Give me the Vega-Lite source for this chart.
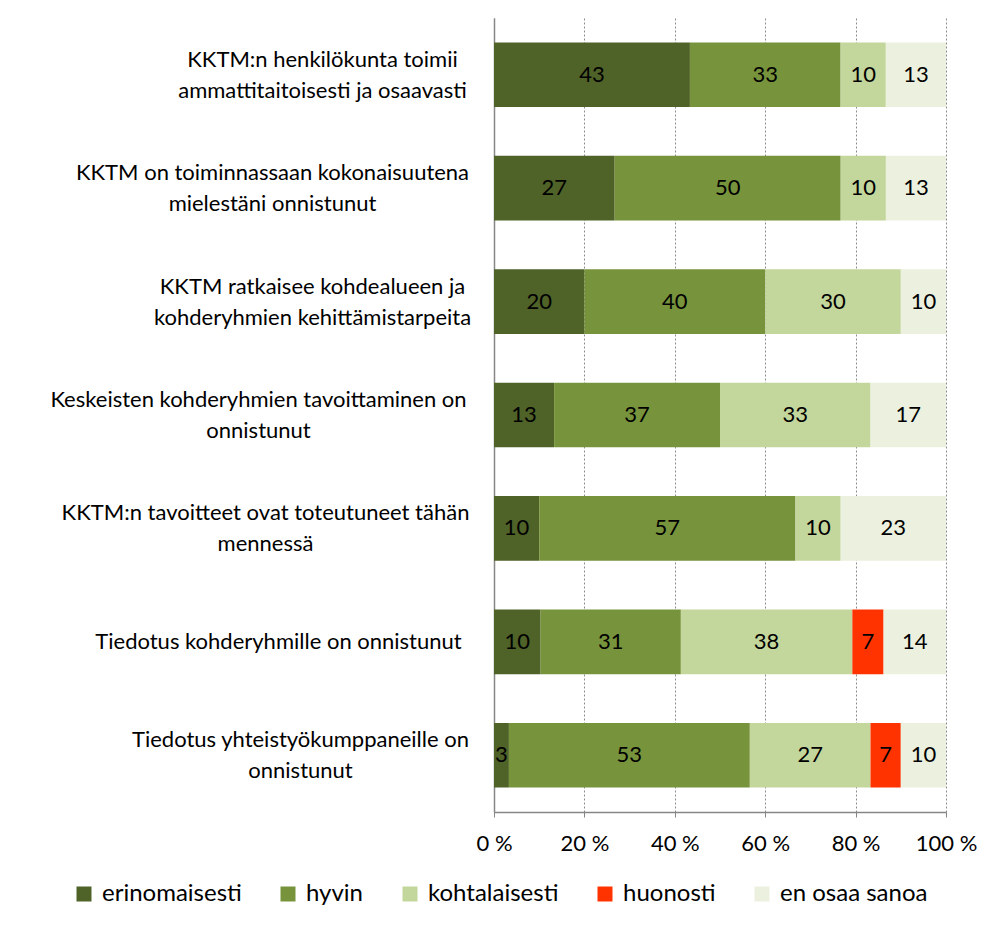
{
  "$schema": "https://vega.github.io/schema/vega-lite/v6.json",
  "width": 452,
  "height": 794,
  "autosize": "none",
  "padding": {"left": 494, "top": 18, "right": 37, "bottom": 114},
  "background": "white",
  "config": {"view": {"stroke": null}, "font": "Lato"},
  "data": {
    "values": [
      {"q": "KKTM:n henkilökunta toimii\nammattitaitoisesti ja osaavasti", "order": 1, "cat": "erinomaisesti", "co": 1, "value": 43.3},
      {"q": "KKTM:n henkilökunta toimii\nammattitaitoisesti ja osaavasti", "order": 1, "cat": "hyvin", "co": 2, "value": 33.3},
      {"q": "KKTM:n henkilökunta toimii\nammattitaitoisesti ja osaavasti", "order": 1, "cat": "kohtalaisesti", "co": 3, "value": 10},
      {"q": "KKTM:n henkilökunta toimii\nammattitaitoisesti ja osaavasti", "order": 1, "cat": "en osaa sanoa", "co": 5, "value": 13.3},
      {"q": "KKTM on toiminnassaan kokonaisuutena\nmielestäni onnistunut", "order": 2, "cat": "erinomaisesti", "co": 1, "value": 26.7},
      {"q": "KKTM on toiminnassaan kokonaisuutena\nmielestäni onnistunut", "order": 2, "cat": "hyvin", "co": 2, "value": 50},
      {"q": "KKTM on toiminnassaan kokonaisuutena\nmielestäni onnistunut", "order": 2, "cat": "kohtalaisesti", "co": 3, "value": 10},
      {"q": "KKTM on toiminnassaan kokonaisuutena\nmielestäni onnistunut", "order": 2, "cat": "en osaa sanoa", "co": 5, "value": 13.3},
      {"q": "KKTM ratkaisee kohdealueen ja\nkohderyhmien kehittämistarpeita", "order": 3, "cat": "erinomaisesti", "co": 1, "value": 20},
      {"q": "KKTM ratkaisee kohdealueen ja\nkohderyhmien kehittämistarpeita", "order": 3, "cat": "hyvin", "co": 2, "value": 40},
      {"q": "KKTM ratkaisee kohdealueen ja\nkohderyhmien kehittämistarpeita", "order": 3, "cat": "kohtalaisesti", "co": 3, "value": 30},
      {"q": "KKTM ratkaisee kohdealueen ja\nkohderyhmien kehittämistarpeita", "order": 3, "cat": "en osaa sanoa", "co": 5, "value": 10},
      {"q": "Keskeisten kohderyhmien tavoittaminen on\nonnistunut", "order": 4, "cat": "erinomaisesti", "co": 1, "value": 13.3},
      {"q": "Keskeisten kohderyhmien tavoittaminen on\nonnistunut", "order": 4, "cat": "hyvin", "co": 2, "value": 36.7},
      {"q": "Keskeisten kohderyhmien tavoittaminen on\nonnistunut", "order": 4, "cat": "kohtalaisesti", "co": 3, "value": 33.3},
      {"q": "Keskeisten kohderyhmien tavoittaminen on\nonnistunut", "order": 4, "cat": "en osaa sanoa", "co": 5, "value": 16.7},
      {"q": "KKTM:n tavoitteet ovat toteutuneet tähän\nmennessä", "order": 5, "cat": "erinomaisesti", "co": 1, "value": 10},
      {"q": "KKTM:n tavoitteet ovat toteutuneet tähän\nmennessä", "order": 5, "cat": "hyvin", "co": 2, "value": 56.7},
      {"q": "KKTM:n tavoitteet ovat toteutuneet tähän\nmennessä", "order": 5, "cat": "kohtalaisesti", "co": 3, "value": 10},
      {"q": "KKTM:n tavoitteet ovat toteutuneet tähän\nmennessä", "order": 5, "cat": "en osaa sanoa", "co": 5, "value": 23.3},
      {"q": "Tiedotus kohderyhmille on onnistunut", "order": 6, "cat": "erinomaisesti", "co": 1, "value": 10.3},
      {"q": "Tiedotus kohderyhmille on onnistunut", "order": 6, "cat": "hyvin", "co": 2, "value": 31},
      {"q": "Tiedotus kohderyhmille on onnistunut", "order": 6, "cat": "kohtalaisesti", "co": 3, "value": 37.9},
      {"q": "Tiedotus kohderyhmille on onnistunut", "order": 6, "cat": "huonosti", "co": 4, "value": 6.9},
      {"q": "Tiedotus kohderyhmille on onnistunut", "order": 6, "cat": "en osaa sanoa", "co": 5, "value": 13.8},
      {"q": "Tiedotus yhteistyökumppaneille on\nonnistunut", "order": 7, "cat": "erinomaisesti", "co": 1, "value": 3.3},
      {"q": "Tiedotus yhteistyökumppaneille on\nonnistunut", "order": 7, "cat": "hyvin", "co": 2, "value": 53.3},
      {"q": "Tiedotus yhteistyökumppaneille on\nonnistunut", "order": 7, "cat": "kohtalaisesti", "co": 3, "value": 26.7},
      {"q": "Tiedotus yhteistyökumppaneille on\nonnistunut", "order": 7, "cat": "huonosti", "co": 4, "value": 6.7},
      {"q": "Tiedotus yhteistyökumppaneille on\nonnistunut", "order": 7, "cat": "en osaa sanoa", "co": 5, "value": 10}
    ]
  },
  "transform": [
    {"stack": "value", "groupby": ["q"], "sort": [{"field": "co", "order": "ascending"}], "offset": "normalize", "as": ["x0", "x1"]},
    {"calculate": "(datum.x0 + datum.x1) / 2", "as": "mid"}
  ],
  "encoding": {
    "y": {
      "field": "q",
      "type": "nominal",
      "sort": {"field": "order", "op": "min", "order": "ascending"},
      "scale": {"paddingInner": 0.43, "paddingOuter": 0.215},
      "axis": {
        "title": null,
        "labelExpr": "split(datum.label, '\\n')",
        "labelFont": "Lato",
        "labelFontSize": 22,
        "labelColor": "#000000",
        "labelAlign": "center",
        "labelLineHeight": 31,
        "labelLimit": 0,
        "labelOffset": {
          "condition": {"test": "indexof(datum.value, '\\n') >= 0", "value": -15},
          "value": 0
        },
        "labelPadding": {
          "condition": [
            {"test": "indexof(datum.value, 'henkilökunta') >= 0", "value": 172},
            {"test": "indexof(datum.value, 'kokonaisuutena') >= 0", "value": 222},
            {"test": "indexof(datum.value, 'ratkaisee') >= 0", "value": 182},
            {"test": "indexof(datum.value, 'Keskeisten') >= 0", "value": 236},
            {"test": "indexof(datum.value, 'tavoitteet') >= 0", "value": 229},
            {"test": "indexof(datum.value, 'kohderyhmille') >= 0", "value": 216}
          ],
          "value": 194
        },
        "ticks": false,
        "domainColor": "#868686",
        "domainWidth": 1.5
      }
    }
  },
  "layer": [
    {
      "mark": {"type": "bar"},
      "encoding": {
        "x": {
          "field": "x0",
          "type": "quantitative",
          "scale": {"domain": [0, 1], "nice": false},
          "axis": {
            "title": null,
            "values": [0, 0.2, 0.4, 0.6, 0.8, 1],
            "labelExpr": "format(datum.value * 100, 'd') + ' %'",
            "labelFont": "Lato",
            "labelFontSize": 22,
            "labelColor": "#000000",
            "labelPadding": 16,
            "labelFlush": false,
            "tickColor": "#868686",
            "tickSize": 5,
            "domainColor": "#868686",
            "domainWidth": 1.5,
            "grid": true,
            "gridColor": "#8c8c8c",
            "gridDash": [2, 2],
            "gridWidth": 1
          }
        },
        "x2": {"field": "x1"},
        "color": {
          "field": "cat",
          "type": "nominal",
          "scale": {
            "domain": ["erinomaisesti", "hyvin", "kohtalaisesti", "huonosti", "en osaa sanoa"],
            "range": ["#4F6228", "#77933C", "#C3D69B", "#FF3300", "#EBF1DE"]
          },
          "legend": {
            "title": null,
            "orient": "none",
            "direction": "horizontal",
            "legendX": -422,
            "legendY": 864,
            "padding": 0,
            "symbolType": "square",
            "symbolSize": 225,
            "symbolStrokeWidth": 0,
            "symbolOpacity": 1,
            "labelFont": "Lato",
            "labelFontSize": 24,
            "labelColor": "#000000",
            "labelOffset": 6,
            "columnPadding": 34,
            "labelLimit": 0
          }
        }
      }
    },
    {
      "mark": {"type": "text", "font": "Lato", "fontSize": 22, "color": "#000000", "baseline": "middle", "align": "center"},
      "encoding": {
        "x": {"field": "mid", "type": "quantitative"},
        "text": {"field": "value", "type": "quantitative", "format": ".0f"}
      }
    }
  ]
}
